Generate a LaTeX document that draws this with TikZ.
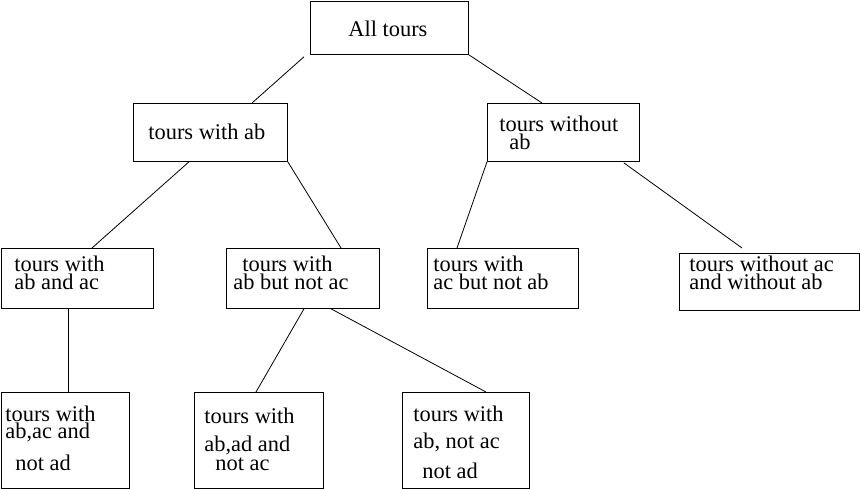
\documentclass[tikz,border=0pt]{standalone}
\usepackage{fontspec}
\setmainfont{Liberation Serif}
\usepackage{tikz}
\usetikzlibrary{calc}

\begin{document}
\begin{tikzpicture}[x=1pt, y=-1pt, line width=0.8pt,
    box/.style={draw, anchor=north west, inner sep=0pt},
    txt/.style={anchor=base west, align=left, inner sep=0pt,
                font=\fontsize{22.4}{18}\selectfont}]
      \useasboundingbox (0,0) rectangle (860,489);

      % boxes
      \node[box, minimum width=158, minimum height=53](all)  at (310, 1) {};
      \node[box, minimum width=154, minimum height=58](ab)   at (133,103) {};
      \node[box, minimum width=152, minimum height=58](woab) at (487,103) {};

      \node[box, minimum width=152, minimum height=60](abac)  at (1,  248) {};
      \node[box, minimum width=153, minimum height=60](abnac) at (226,248) {};
      \node[box, minimum width=151, minimum height=60](acnab) at (427,248) {};
      \node[box, minimum width=180, minimum height=57](woac)  at (679,253) {};

      \node[box, minimum width=128, minimum height=96](b1) at (1,  392) {};
      \node[box, minimum width=129, minimum height=96](b2) at (194,392) {};
      \node[box, minimum width=127, minimum height=96](b3) at (402,392) {};

      % texts (placed at the baseline of their last line)
      \node[txt](all-t)   at (348, 37) {All tours};
      \node[txt](ab-t)    at (148,140) {tours with ab};
      \node[txt](woab-t)  at (499,150) {tours without\\\hspace*{10pt}ab};
      \node[txt](abac-t)  at (14, 290) {tours with\\ab and ac};
      \node[txt](abnac-t) at (233,290) {\hspace*{9pt}tours with\\ab but not ac};
      \node[txt](acnab-t) at (433,290) {tours with\\ac but not ab};
      \node[txt](woac-t)  at (689,290) {tours without ac\\and without ab};
      \node[txt](b1-t) at (5,  470) {tours with\\[-1pt]ab,ac and\\[12pt]\hspace*{10pt}not ad};
      \node[txt](b2-t) at (204,470) {tours with\\[10pt]ab,ad and\\[1pt]\hspace*{11pt}not ac};
      \node[txt](b3-t) at (413,478) {tours with\\[9pt]ab, not ac\\[10pt]\hspace*{9pt}not ad};

      % connectors
      \draw ($(all.south west)+(-6,2)$) -- ($(ab.north west)+(119,0)$);
      \draw (all.south east) -- ($(woab.north west)+(55,0)$);
      \draw ($(ab.south west)+(56,0)$) -- ($(abac.north west)+(91,0)$);
      \draw (ab.south east) -- ($(abnac.north west)+(115,0)$);
      \draw (woab.south west) -- ($(acnab.north west)+(30,0)$);
      \draw ($(woab.south east)+(-16,1)$) -- ($(woac.north west)+(63,-5)$);
      \draw ($(abac.south west)+(67,0)$) -- ($(b1.north west)+(67,0)$);
      \draw ($(abnac.south west)+(78,0)$) -- ($(b2.north west)+(62,0)$);
      \draw ($(abnac.south west)+(105,0)$) -- ($(b3.north west)+(84,0)$);
    \end{tikzpicture}
\end{document}
